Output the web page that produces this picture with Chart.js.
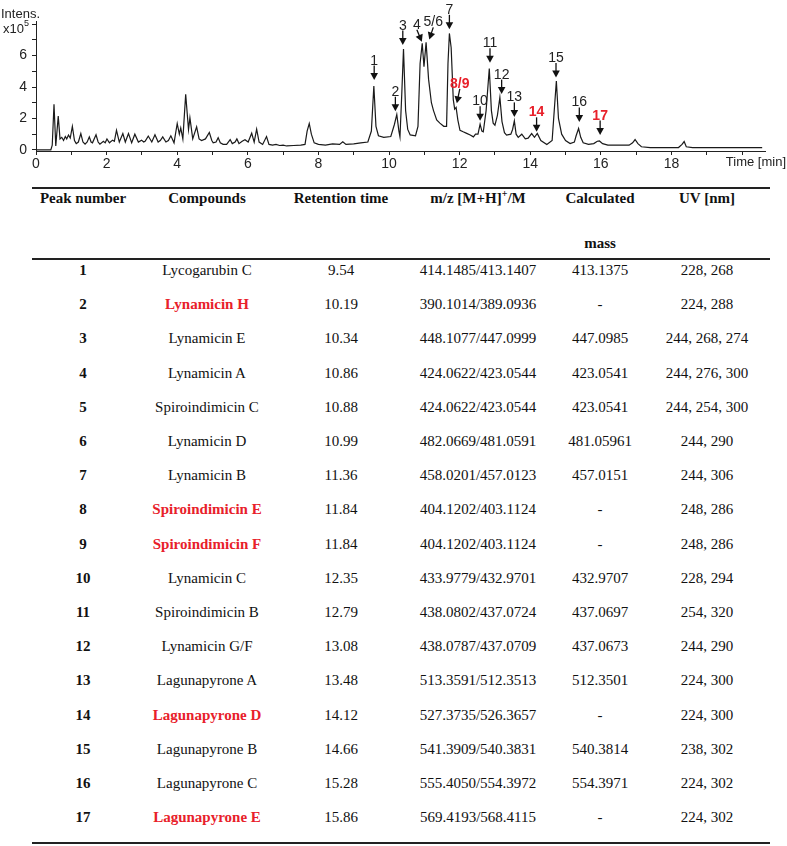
<!DOCTYPE html>
<html>
<head>
<meta charset="utf-8">
<script src="https://cdn.jsdelivr.net/npm/chart.js@4.4.0/dist/chart.umd.min.js"></script>
<style>
  body { margin: 0; background: #fff; }
  #wrap { position: relative; width: 787px; height: 846px; overflow: hidden; }
  #chart-box { position: absolute; left: 0; top: 0; width: 787px; height: 172px; }
  .rule { position: absolute; left: 32px; width: 738px; height: 2px; background: #222; }
  .cell { position: absolute; transform: translateX(-50%); white-space: nowrap;
          font-family: "Liberation Serif", "Times New Roman", serif; font-size: 15px;
          line-height: 20px; color: #111; }
  .hdr { font-weight: bold; }
  .num { font-weight: bold; }
  .new { color: #e8202a; font-weight: bold; }
  sup { font-size: 10px; line-height: 0; }
</style>
</head>
<body>
<div id="wrap">
  <div id="chart-box"><canvas id="chromChart"></canvas></div>
  <div id="table"></div>
</div>
<script>
// Chromatogram trace (time in min, intensity in x10^5)
const times = [0, 0.42, 0.46, 0.51, 0.56, 0.63, 0.68, 0.73, 0.78, 0.83, 0.87, 0.92, 0.97, 1.03, 1.09, 1.14, 1.2, 1.27,
  1.33, 1.39, 1.45, 1.51, 1.56, 1.6, 1.7, 1.76, 1.81, 1.91, 1.96, 2.01, 2.08, 2.17, 2.22, 2.28, 2.36, 2.46, 2.53, 2.62,
  2.71, 2.8, 2.9, 2.99, 3.05, 3.09, 3.18, 3.28, 3.37, 3.46, 3.52, 3.59, 3.68, 3.75, 3.82, 3.91, 4.0, 4.06, 4.1, 4.16,
  4.24, 4.32, 4.36, 4.44, 4.55, 4.62, 4.69, 4.8, 4.91, 4.98, 5.02, 5.1, 5.16, 5.22, 5.3, 5.4, 5.5, 5.56, 5.64, 5.69,
  5.75, 5.84, 5.92, 6.01, 6.11, 6.18, 6.25, 6.32, 6.42, 6.53, 6.6, 6.7, 6.8, 6.9, 7.0, 7.1, 7.3, 7.5, 7.62, 7.68, 7.74,
  7.8, 7.88, 8.0, 8.2, 8.4, 8.6, 8.69, 8.78, 9.0, 9.2, 9.4, 9.5, 9.57, 9.63, 9.7, 9.85, 10.05, 10.15, 10.22, 10.28,
  10.31, 10.36, 10.41, 10.47, 10.53, 10.6, 10.75, 10.82, 10.88, 10.94, 10.99, 11.05, 11.12, 11.2, 11.26, 11.35, 11.44,
  11.55, 11.63, 11.67, 11.71, 11.76, 11.82, 11.86, 11.9, 11.95, 12.01, 12.1, 12.2, 12.3, 12.39, 12.45, 12.52, 12.58,
  12.63, 12.67, 12.75, 12.84, 12.9, 12.95, 13.0, 13.07, 13.14, 13.2, 13.27, 13.33, 13.45, 13.5, 13.55, 13.6, 13.66,
  13.76, 13.86, 13.94, 14.04, 14.12, 14.2, 14.3, 14.47, 14.62, 14.68, 14.74, 14.8, 14.89, 15.0, 15.13, 15.25, 15.3,
  15.37, 15.43, 15.5, 15.65, 15.8, 15.9, 15.96, 16.05, 16.2, 16.4, 16.6, 16.8, 16.9, 16.97, 17.05, 17.15, 17.4, 17.8,
  18.2, 18.3, 18.36, 18.42, 18.6, 19.0, 19.5, 20.0, 20.57];
const intensity = [0, 0, 0.3, 2.91, 0.25, 2.15, 0.7, 0.8, 0.6, 0.85, 0.7, 0.95, 0.75, 1.5, 0.6, 0.4, 0.5, 1.04,
  0.5, 0.36, 0.5, 0.83, 0.5, 0.45, 0.96, 0.5, 0.36, 0.55, 0.45, 0.7, 0.45, 0.62, 0.55, 1.25, 0.5, 1.04, 0.5, 1.04,
  0.45, 1.0, 0.5, 0.62, 0.5, 0.55, 0.88, 0.5, 0.96, 0.5, 0.6, 0.83, 0.5, 0.6, 0.9, 0.45, 1.68, 1.0, 1.4, 0.7,
  3.53, 1.3, 2.04, 0.7, 1.47, 0.7, 0.6, 0.7, 1.11, 0.6, 0.45, 0.5, 0.78, 0.45, 0.35, 0.35, 0.66, 0.4, 0.5, 0.7,
  0.4, 0.55, 0.65, 0.5, 1.06, 0.5, 1.32, 0.5, 0.35, 0.85, 0.35, 0.3, 0.35, 0.28, 0.3, 0.25, 0.28, 0.3, 0.35, 1.2, 1.68,
  1.0, 0.45, 0.35, 0.3, 0.38, 0.35, 0.52, 0.35, 0.38, 0.45, 0.5, 1.2, 4.06, 1.5, 0.9, 0.8, 0.85, 1.6, 2.25, 1.2,
  0.83, 3.5, 6.41, 2.5, 1.3, 0.95, 0.9, 1.5, 5.5, 6.78, 5.3, 6.84, 4.5, 3.0, 2.5, 1.9, 1.7,
  1.5, 1.5, 5.5, 7.41, 6.5, 3.2, 2.6, 2.7, 1.9, 1.25, 1.15, 1.05, 0.95, 0.83, 1.0, 1.0, 1.64,
  1.2, 1.15, 2.5, 5.18, 2.5, 1.7, 1.57, 2.2, 3.34, 1.8, 1.1, 0.94, 1.0, 1.3, 1.85, 1.0, 0.8,
  1.0, 0.7, 0.75, 1.04, 0.8, 1.05, 0.6, 0.35, 0.6, 2.5, 4.38, 2.0, 1.0, 0.6, 0.4, 0.5, 0.9,
  1.36, 0.8, 0.45, 0.35, 0.4, 0.55, 0.57, 0.4, 0.3, 0.3, 0.3, 0.3, 0.45, 0.66, 0.4, 0.2, 0.15, 0.15,
  0.15, 0.35, 0.53, 0.2, 0.15, 0.15, 0.15, 0.15, 0.15];

// Peak labels (arrow tip in data coordinates)
const annotLabels = ['1', '2', '3', '4', '5/6', '7', '8/9', '10', '11', '12', '13', '14', '15', '16', '17'];
const annotTimes  = [9.58, 10.18, 10.39, 10.93, 11.14, 11.71, 11.92, 12.58, 12.86, 13.19, 13.55, 14.18, 14.73, 15.39, 15.98];
const annotIntens = [4.44, 2.46, 6.67, 6.88, 7.03, 7.67, 2.96, 1.85, 5.54, 3.55, 2.1, 1.15, 4.61, 1.78, 0.94];
const annotNew    = [false, false, false, false, false, false, true, false, false, false, false, true, false, false, true];

const xTickValues = [0, 1, 2, 3, 4, 5, 6, 7, 8, 9, 10, 11, 12, 13, 14, 15, 16, 17, 18, 19, 20];
const xTickLabels = [0, 2, 4, 6, 8, 10, 12, 14, 16, 18];
const yTickValues = [0, 1, 2, 3, 4, 5, 6, 7, 8];
const yTickLabels = [0, 2, 4, 6];

// Table
const peakNumbers = ['1', '2', '3', '4', '5', '6', '7', '8', '9', '10', '11', '12', '13', '14', '15', '16', '17'];
const compounds = ['Lycogarubin C', 'Lynamicin H', 'Lynamicin E', 'Lynamicin A', 'Spiroindimicin C', 'Lynamicin D',
  'Lynamicin B', 'Spiroindimicin E', 'Spiroindimicin F', 'Lynamicin C', 'Spiroindimicin B', 'Lynamicin G/F',
  'Lagunapyrone A', 'Lagunapyrone D', 'Lagunapyrone B', 'Lagunapyrone C', 'Lagunapyrone E'];
const retention = ['9.54', '10.19', '10.34', '10.86', '10.88', '10.99', '11.36', '11.84', '11.84', '12.35', '12.79',
  '13.08', '13.48', '14.12', '14.66', '15.28', '15.86'];
const mzValues = ['414.1485/413.1407', '390.1014/389.0936', '448.1077/447.0999', '424.0622/423.0544',
  '424.0622/423.0544', '482.0669/481.0591', '458.0201/457.0123', '404.1202/403.1124', '404.1202/403.1124',
  '433.9779/432.9701', '438.0802/437.0724', '438.0787/437.0709', '513.3591/512.3513', '527.3735/526.3657',
  '541.3909/540.3831', '555.4050/554.3972', '569.4193/568.4115'];
const calcMass = ['413.1375', '-', '447.0985', '423.0541', '423.0541', '481.05961', '457.0151', '-', '-', '432.9707',
  '437.0697', '437.0673', '512.3501', '-', '540.3814', '554.3971', '-'];
const uvValues = ['228, 268', '224, 288', '244, 268, 274', '244, 276, 300', '244, 254, 300', '244, 290', '244, 306',
  '248, 286', '248, 286', '228, 294', '254, 320', '244, 290', '224, 300', '224, 300', '238, 302', '224, 302', '224, 302'];
const newCompound = [false, true, false, false, false, false, false, true, true, false, false, false, false, true, false, false, true];

// ---- table build ----
const colX = [83, 207, 341, 478, 600, 707];
const tbl = document.getElementById('table');
function addCell(html, x, cy, cls) {
  const d = document.createElement('div');
  d.className = 'cell ' + (cls || '');
  d.style.left = x + 'px';
  d.style.top = (cy - 10) + 'px';
  d.innerHTML = html;
  tbl.appendChild(d);
}
function addRule(y) {
  const r = document.createElement('div');
  r.className = 'rule';
  r.style.top = y + 'px';
  tbl.appendChild(r);
}
addRule(187);
addRule(258);
addRule(842);
const headers = ['Peak number', 'Compounds', 'Retention time', 'm/z [M+H]<sup>+</sup>/M', 'Calculated', 'UV [nm]'];
headers.forEach((h, i) => addCell(h, colX[i], 198, 'hdr'));
addCell('mass', colX[4], 243, 'hdr');
peakNumbers.forEach((p, i) => {
  const cy = 270 + i * 34.2;
  addCell(p, colX[0], cy, 'num');
  addCell(compounds[i], colX[1], cy, newCompound[i] ? 'new' : '');
  addCell(retention[i], colX[2], cy);
  addCell(mzValues[i], colX[3], cy);
  addCell(calcMass[i], colX[4], cy);
  addCell(uvValues[i], colX[5], cy);
});

// ---- chart ----
const axisColor = '#222';
const sansFont = '"Liberation Sans", Arial, sans-serif';

const peakArrows = {
  id: 'peakArrows',
  afterDatasetsDraw(chart) {
    const ctx = chart.ctx;
    const xs = chart.scales.x, ys = chart.scales.y;
    const lean = { '4': -5, '5/6': 4, '8/9': 3 };
    ctx.save();
    annotLabels.forEach((lab, i) => {
      const tx = xs.getPixelForValue(annotTimes[i]);
      const ty = ys.getPixelForValue(annotIntens[i]);
      const dx = lean[lab] || 0;
      const len = (lab === '4' || lab === '5/6') ? 12 : 14.5;
      const sx = tx + dx, sy = ty - len;
      const ang = Math.atan2(ty - sy, tx - sx);
      ctx.strokeStyle = '#111';
      ctx.fillStyle = '#111';
      ctx.lineWidth = 1.3;
      ctx.beginPath();
      ctx.moveTo(sx, sy);
      ctx.lineTo(tx - Math.cos(ang) * 4, ty - Math.sin(ang) * 4);
      ctx.stroke();
      // arrow head
      const hl = 7, hw = 3.8;
      const bx = tx - Math.cos(ang) * hl, by = ty - Math.sin(ang) * hl;
      ctx.beginPath();
      ctx.moveTo(tx, ty);
      ctx.lineTo(bx + Math.sin(ang) * hw, by - Math.cos(ang) * hw);
      ctx.lineTo(bx - Math.sin(ang) * hw, by + Math.cos(ang) * hw);
      ctx.closePath();
      ctx.fill();
      // label
      ctx.font = (annotNew[i] ? 'bold ' : '') + '14px ' + sansFont;
      ctx.fillStyle = annotNew[i] ? '#e8202a' : '#222';
      ctx.textAlign = 'center';
      ctx.textBaseline = 'alphabetic';
      ctx.fillText(lab, sx, sy - 1);
    });
    // axis captions
    ctx.fillStyle = '#222';
    ctx.textAlign = 'left';
    ctx.font = '13px ' + sansFont;
    ctx.fillText('Intens.', 1, 18);
    ctx.fillText('x10', 3, 33);
    ctx.font = '9px ' + sansFont;
    ctx.fillText('5', 24, 26);
    ctx.font = '13px ' + sansFont;
    ctx.textAlign = 'right';
    ctx.fillText('Time [min]', 786, 166);
    ctx.restore();
  }
};

new Chart(document.getElementById('chromChart'), {
  type: 'line',
  data: {
    datasets: [{
      data: times.map((t, i) => ({ x: t, y: intensity[i] })),
      borderColor: '#1a1a1a',
      borderWidth: 1.2,
      pointRadius: 0,
      tension: 0,
      fill: false
    }]
  },
  options: {
    responsive: true,
    maintainAspectRatio: false,
    animation: false,
    layout: { padding: { top: 21, right: 22, left: 0, bottom: 0 } },
    plugins: { legend: { display: false }, tooltip: { enabled: false } },
    scales: {
      x: {
        type: 'linear',
        min: 0,
        max: 20.65,
        afterBuildTicks: s => { s.ticks = xTickValues.map(v => ({ value: v })); },
        afterFit: s => { s.height = 21; },
        ticks: {
          autoSkip: false,
          maxRotation: 0,
          padding: 1,
          color: '#222',
          font: { family: sansFont, size: 14 },
          callback: v => xTickLabels.includes(v) ? String(v) : ''
        },
        grid: { drawOnChartArea: false, tickLength: 4, color: axisColor },
        border: { color: axisColor, width: 1 }
      },
      y: {
        min: -0.07,
        max: 8.2,
        afterBuildTicks: s => { s.ticks = yTickValues.map(v => ({ value: v })); },
        afterFit: s => { s.width = 36; },
        ticks: {
          autoSkip: false,
          padding: 5,
          color: '#222',
          font: { family: sansFont, size: 14 },
          callback: v => yTickLabels.includes(v) ? String(v) : ''
        },
        grid: { drawOnChartArea: false, tickLength: 4, color: axisColor },
        border: { color: axisColor, width: 1 }
      }
    }
  },
  plugins: [peakArrows]
});
</script>
</body>
</html>
